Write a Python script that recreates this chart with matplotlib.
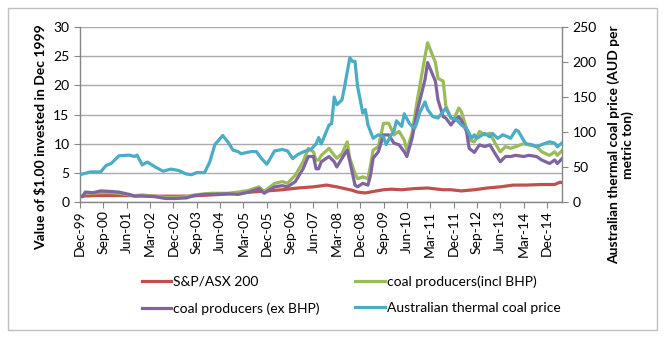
import matplotlib.pyplot as plt
from matplotlib.lines import Line2D
from matplotlib.patches import Rectangle

plt.rcParams['font.family'] = ['Lato', 'DejaVu Sans']

# months since Dec-99
tick_labels = ['Dec-99', 'Sep-00', 'Jun-01', 'Mar-02', 'Dec-02', 'Sep-03', 'Jun-04',
               'Mar-05', 'Dec-05', 'Sep-06', 'Jun-07', 'Mar-08', 'Dec-08', 'Sep-09',
               'Jun-10', 'Mar-11', 'Dec-11', 'Sep-12', 'Jun-13', 'Mar-14', 'Dec-14']

asx_months = [0, 6, 12, 18, 24, 30, 36, 42, 48, 54, 60, 66, 72, 78, 84, 90, 95, 99, 102,
              105, 107, 110, 113, 117, 120, 124, 129, 134, 140, 143, 147, 152, 157, 162,
              167, 172, 178, 183, 185, 186]
asx = [1.0, 1.1, 1.1, 1.1, 1.05, 1.0, 1.0, 1.0, 1.15, 1.3, 1.5, 1.7, 1.9, 2.1, 2.4, 2.6,
       2.9, 2.6, 2.3, 2.0, 1.7, 1.55, 1.8, 2.1, 2.2, 2.1, 2.3, 2.4, 2.1, 2.1, 1.9, 2.1,
       2.4, 2.6, 2.9, 2.9, 3.0, 3.0, 3.4, 3.3]

coal_months = [0, 1, 2, 5, 8, 12, 15, 19, 21, 24, 29, 33, 37, 41, 44, 48, 51, 57, 61, 65,
               69, 71, 75, 78, 80, 83, 86, 88, 90, 91, 92, 93, 96, 98, 99, 101, 103, 104,
               106, 107, 109, 111, 112, 113, 115, 117, 119, 121, 123, 125, 126, 128, 130,
               133, 134, 137, 138, 140, 141, 143, 144, 146, 147, 149, 150, 152, 154, 156,
               158, 160, 162, 164, 166, 168, 171, 173, 176, 178, 181, 183, 184, 186]
coal_incl = [1.0, 1.0, 1.5, 1.5, 1.6, 1.6, 1.5, 1.2, 1.1, 1.2, 1.0, 0.8, 0.8, 0.9, 1.2,
             1.4, 1.5, 1.5, 1.7, 2.0, 2.6, 1.8, 3.2, 3.5, 3.2, 4.6, 6.9, 9.2, 8.6, 7.2,
             7.2, 8.0, 9.2, 8.0, 7.5, 8.3, 10.3, 7.5, 4.9, 4.0, 4.3, 4.0, 6.3, 8.9, 9.5,
             13.5, 13.5, 11.5, 12.1, 10.6, 8.9, 11.8, 17.4, 25.0, 27.3, 23.9, 21.2, 20.7,
             16.5, 14.4, 14.1, 16.1, 15.5, 12.6, 10.6, 10.3, 12.1, 11.5, 11.8, 10.1, 8.6,
             9.5, 9.2, 9.5, 10.0, 9.8, 9.5, 8.6, 8.0, 8.6, 8.0, 8.9]
coal_ex = [1.0, 0.9, 1.7, 1.6, 1.9, 1.8, 1.7, 1.3, 1.0, 1.05, 0.9, 0.6, 0.6, 0.7, 1.1,
           1.3, 1.3, 1.4, 1.3, 1.7, 2.3, 1.5, 2.6, 2.8, 2.6, 3.5, 5.7, 7.8, 7.8, 5.7,
           5.7, 6.9, 7.8, 6.9, 6.0, 7.5, 8.9, 7.0, 2.9, 2.6, 3.2, 2.9, 4.6, 7.5, 8.6,
           11.5, 11.5, 10.1, 9.8, 8.6, 7.8, 10.9, 15.6, 21.0, 23.9, 20.7, 17.5, 14.6,
           14.4, 13.2, 13.8, 14.6, 14.0, 12.1, 9.2, 8.5, 9.8, 9.5, 9.8, 8.3, 6.9,
           7.8, 7.8, 8.0, 7.8, 8.0, 7.8, 7.2, 6.6, 7.2, 6.6, 7.5]

price_months = [0, 4, 8, 10, 12, 15, 19, 21, 22, 24, 26, 29, 32, 35, 38, 41, 43, 45, 48,
                50, 52, 55, 57, 59, 61, 62, 66, 68, 70, 72, 73, 75, 78, 80, 82, 84, 87,
                89, 91, 92, 93, 96, 97, 98, 99, 101, 102, 104, 105, 106, 107, 109, 110,
                111, 113, 115, 117, 118, 120, 121, 122, 124, 125, 127, 129, 130, 131, 133,
                134, 136, 138, 141, 143, 145, 147, 149, 151, 152, 153, 156, 158, 159, 161,
                163, 165, 166, 168, 169, 171, 172, 174, 176, 178, 181, 183, 184, 186]
price = [39, 43, 43, 52, 55, 66, 67, 65, 67, 53, 57, 50, 44, 47, 45, 40, 39, 42, 42,
         57, 82, 95, 86, 74, 72, 69, 72, 72, 62, 54, 60, 73, 75, 73, 62, 68, 73,
         75, 83, 92, 83, 110, 112, 150, 139, 146, 165, 206, 201, 201, 165, 127,
         132, 110, 91, 96, 93, 82, 96, 101, 116, 108, 126, 112, 105, 115, 128,
         143, 132, 122, 120, 134, 120, 118, 110, 105, 91, 96, 91, 98, 93, 98, 91,
         96, 93, 91, 103, 101, 88, 83, 82, 79, 82, 86, 84, 79, 85]

red, green, purple, blue = '#C0504D', '#9BBB59', '#8064A2', '#4BACC6'
grey = '#868686'
lw = 2.3

fig = plt.figure(figsize=(6.68, 3.45), dpi=100)
W, H = 668, 345
ax = fig.add_axes([80 / W, 1 - 202 / H, 482 / W, 175 / H])
ax2 = ax.twinx()

ax.plot(asx_months, asx, color=red, lw=lw)
ax.plot(coal_months, coal_incl, color=green, lw=lw)
ax.plot(coal_months, coal_ex, color=purple, lw=lw)
ax2.plot(price_months, price, color=blue, lw=lw)

ax.set_xlim(0, 185.8)
ax.set_ylim(0, 30)
ax2.set_ylim(0, 250)
ax.set_yticks(range(0, 31, 5))
ax2.set_yticks(range(0, 251, 50))
ax.set_xticks(range(0, 181, 9))
ax.set_xticklabels(tick_labels, rotation=90)

ax.grid(axis='y', color='#AAAAAA', lw=1.0)
ax.set_axisbelow(True)
for a in (ax, ax2):
    for s in a.spines.values():
        s.set_visible(False)
    a.tick_params(labelsize=10, colors=grey, labelcolor='black', length=4, width=0.8)
ax.spines['left'].set_visible(True)
ax.spines['bottom'].set_visible(True)
ax2.spines['right'].set_visible(True)
for s in (ax.spines['left'], ax.spines['bottom'], ax2.spines['right']):
    s.set_color(grey)
    s.set_linewidth(1.0)
ax.tick_params(axis='x', pad=2)

fig.text(41 / W, 1 - 137 / H, 'Value of $1.00 invested in Dec 1999', rotation=90,
         ha='center', va='center', fontsize=10, fontweight='bold')
fig.text(621 / W, 1 - 145 / H, 'Australian thermal coal price (AUD per\nmetric ton)',
         rotation=90, ha='center', va='center', multialignment='center',
         fontsize=10, fontweight='bold', linespacing=1.1)

handles = [Line2D([], [], color=red, lw=lw), Line2D([], [], color=purple, lw=lw),
           Line2D([], [], color=green, lw=lw), Line2D([], [], color=blue, lw=lw)]
names = ['S&P/ASX 200', 'coal producers (ex BHP)', 'coal producers(incl BHP)',
         'Australian thermal coal price']
fig.legend(handles, names, ncol=2, loc='center left', frameon=False, fontsize=10,
           bbox_to_anchor=(129 / W, 1 - 295 / H), handlelength=2.1, handletextpad=0.15,
           columnspacing=2.6, labelspacing=1.05)

fig.patches.append(Rectangle((8 / W, 1 - 330 / H), 649 / W, 322 / H, transform=fig.transFigure,
                             fill=False, edgecolor='#BFBFBF', lw=1.0))

fig.savefig('out.png', dpi=100)
